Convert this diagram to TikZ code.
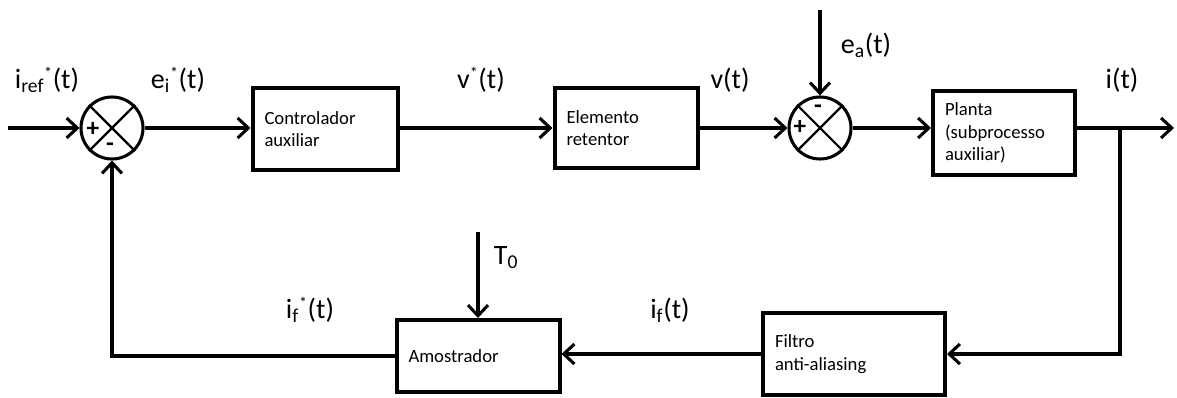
\documentclass[tikz,border=0pt]{standalone}
\usepackage{fontspec}
\setmainfont{Carlito}
\usetikzlibrary{arrows.meta}

\begin{document}
\begin{tikzpicture}[x=0.75pt, y=-0.75pt,
        >={Straight Barb[length=8pt, width=15pt]},
        linha/.style={line width=2.3pt, ->},
        bloco/.style={draw, rectangle, line width=3pt, inner xsep=9pt, align=left,
            font=\fontsize{14}{17}\selectfont},
        soma/.style={draw, circle, line width=2.3pt, minimum size=46.5pt, inner sep=0pt},
        sinal/.style={font=\fontsize{19}{19}\selectfont\bfseries, inner sep=0pt},
        rotulo/.style={font=\fontsize{21}{22}\selectfont, inner sep=0pt}]
        \useasboundingbox (0,0) rectangle (1177,398);

        % Summing junctions
        \node[soma] (s1) at (112,128) {};
        \node[soma] (s2) at (820,128) {};
        \foreach \s in {s1,s2} {
            \draw[line width=1.6pt] (\s.45) -- (\s.225) (\s.135) -- (\s.315);
        }
        \node[sinal] (s1mais) at (93,129) {+};
        \node[sinal] (s1menos) at (110,147) {-};
        \node[sinal] (s2mais) at (800,127) {+};
        \node[sinal] (s2menos) at (818,109) {-};

        % Blocks
        \node[bloco, minimum width=108.75pt, minimum height=61.5pt, text width=90.75pt] (ctrl) at (325,129) {Controlador\\auxiliar};
        \node[bloco, minimum width=107.25pt, minimum height=60pt, text width=89.25pt] (ret) at (626,128) {Elemento\\retentor};
        \node[bloco, minimum width=106.5pt, minimum height=63pt, text width=88.5pt] (planta) at (1004,133) {Planta\\(subprocesso\\auxiliar)};
        \node[bloco, minimum width=136.5pt, minimum height=61.5pt, text width=118.5pt] (filtro) at (854,354) {Filtro\\anti-aliasing};
        \node[bloco, minimum width=122.25pt, minimum height=54pt, text width=104.25pt] (amost) at (478,356) {Amostrador};

        % Free ends
        \coordinate (entrada) at (8,128);
        \coordinate (ea) at (820,10);
        \coordinate (T0) at (478,232);
        \coordinate (ramo) at (1120,128);
        \coordinate (saida) at (1174,128);

        % Forward path
        \draw[linha] (entrada) -- (s1.west);
        \draw[linha] (s1.east) -- (ctrl.west |- s1);
        \draw[linha] (ctrl.east |- s1) -- (ret.west |- s1);
        \draw[linha] (ret.east |- s2) -- (s2.west);
        \draw[linha] (ea) -- (s2.north);
        \draw[linha] (s2.east) -- (planta.west |- s2);
        \draw[linha] (planta.east |- s2) -- (saida);

        % Feedback path
        \draw[linha] (ramo) |- (filtro.east);
        \draw[linha] (filtro.west) -- (filtro.west -| amost.east);
        \draw[linha] (T0) -- (amost.north);
        \draw[linha] (amost.west) -| (s1.south);

        % Signal labels
        \node[rotulo] (iref) at (47,80) {i\textsubscript{ref}\textsuperscript{\large *}(t)};
        \node[rotulo] (ei) at (178,80) {e\textsubscript{i}\textsuperscript{\large *}(t)};
        \node[rotulo] (vest) at (481,80) {v\textsuperscript{\large *}(t)};
        \node[rotulo] (v) at (730,80) {v(t)};
        \node[rotulo] (ealbl) at (866,45) {e\textsubscript{a}(t)};
        \node[rotulo] (i) at (1122,80) {i(t)};
        \node[rotulo] (T0lbl) at (506,258) {T\textsubscript{0}};
        \node[rotulo] (ifest) at (310,310) {i\textsubscript{f}\textsuperscript{\large *}(t)};
        \node[rotulo] (if) at (670,310) {i\textsubscript{f}(t)};
\end{tikzpicture}
\end{document}
